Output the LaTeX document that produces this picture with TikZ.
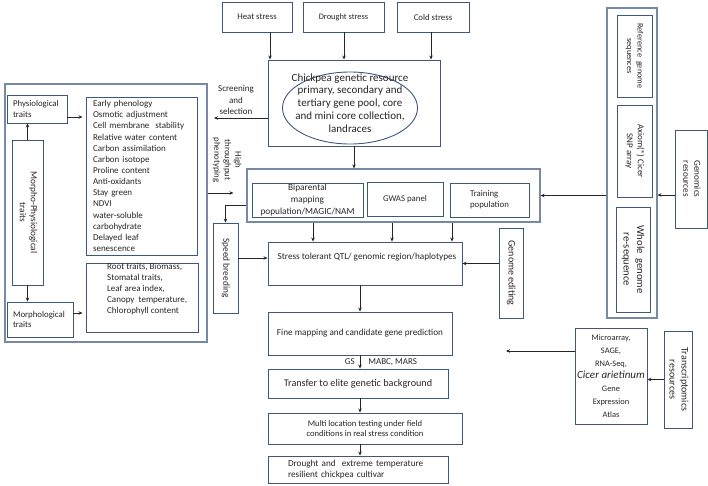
\documentclass[tikz,border=0pt]{standalone}
\usepackage{fontspec}
\setmainfont{Carlito}
\usepackage{graphicx}
\usetikzlibrary{arrows.meta, shapes.geometric}
\definecolor{boxblue}{RGB}{62,88,124}
\definecolor{framegray}{RGB}{118,138,165}
\newcommand{\sidetext}[1]{\rotatebox{-90}{\begin{tabular}{@{}c@{}}#1\end{tabular}}}
\tikzset{
  box/.style={draw=boxblue, line width=0.9pt, inner sep=0pt, align=center, font=\fontsize{8.8}{10.8}\selectfont},
  outerbox/.style={draw=framegray, line width=1.1pt, inner sep=0pt},
  arr/.style={->, >={Stealth[length=4pt,width=3.5pt]}, line width=0.7pt, draw=black!85},
  plain/.style={inner sep=0pt, align=center, font=\fontsize{9}{11.5}\selectfont}
}
\begin{document}
\begin{tikzpicture}[x=1pt, y=-1pt, text=black!85]
\useasboundingbox (0,0) rectangle (708,485);
\node[box, minimum width=70, minimum height=30] (heat) at (257,17) {Heat stress};
\node[box, minimum width=81, minimum height=30, font=\fontsize{8.4}{10}\selectfont] (drought) at (343.5,17) {Drought stress};
\node[box, minimum width=72, minimum height=30] (cold) at (433,17) {Cold stress};
\node[box, minimum width=172, minimum height=86] (chickpea) at (354,103) {};
\node[box, ellipse, minimum width=135, minimum height=72] (poolring) at (350,108) {};
\node[plain, font=\fontsize{11}{12.8}\selectfont] (pool) at (350,103) {Chickpea genetic resource\\ primary, secondary and\\ tertiary gene pool, core\\ and mini core collection,\\ landraces};
\foreach \s/\xa in {heat/270, drought/344, cold/431}
  \draw[arr] (\s.south -| \xa,0) -- (chickpea.north -| \xa,0);
\node[plain] (screen) at (236,100) {Screening\\ and\\ selection};
\coordinate (screenend) at (214,118);
\draw[arr] (chickpea.west |- screenend) -- (screenend);

% traits
\node[outerbox, minimum width=202, minimum height=258] (traitframe) at (106,213) {};
\node[box, minimum width=60, minimum height=28, text width=48, align=left] (physio) at (37,109) {Physiological\\ traits};
\node[box, minimum width=111, minimum height=158, text width=97, align=left, font=\fontsize{9}{11.15}\selectfont] (early) at (141.5,176) {Early phenology\\ Osmotic adjustment\\ Cell membrane~ stability\\ Relative water content\\ Carbon assimilation\\ Carbon isotope\\ Proline content\\ Anti-oxidants\\ Stay green\\ NDVI\\ water-soluble\\ carbohydrate\\ Delayed leaf\\ senescence};
\node[box, minimum width=31, minimum height=145, font=\fontsize{9.3}{11}\selectfont] (morphophys) at (27.5,212.5) {\sidetext{Morpho-Physiological\\ traits}};
\node[box, minimum width=66, minimum height=35, text width=54, align=left] (morph) at (40,319.5) {Morphological\\ traits};
\node[box, minimum width=112, minimum height=69] (root) at (142,297.5) {};
\node[plain, align=left, anchor=north west, font=\fontsize{9}{11.1}\selectfont] (roottext) at (107,263) {Root traits, Biomass,\\ Stomatal traits,\\ Leaf area index,\\ Canopy~ temperature,\\ Chlorophyll content};
\draw[arr] (morphophys.north) -- (morphophys.north |- physio.south);
\draw[arr] (morphophys.south) -- (morphophys.south |- morph.north);
\draw[arr, shorten >=3pt] (physio.east |- 0,117) -- (early.west |- 0,117);
\draw[arr, shorten >=3pt] (morph.east |- 0,313) -- (root.west |- 0,313);
\node[plain, font=\fontsize{8.8}{10.5}\selectfont] (htp) at (227,160) {\sidetext{High\\ throughput\\ phenotyping}};

% populations
\node[outerbox, minimum width=293, minimum height=53] (popgroup) at (393.5,195.5) {};
\node[box, minimum width=111, minimum height=34, font=\fontsize{9.3}{12.3}\selectfont] (biparental) at (307.5,200) {Biparental\\ mapping\\ population/MAGIC/NAM};
\node[box, minimum width=76, minimum height=34] (gwas) at (405,199) {GWAS panel};
\node[box, minimum width=79, minimum height=34, align=left] (training) at (489.5,200) {Training\\ population};
\draw[arr] (chickpea.south) -- (chickpea.south |- popgroup.north);
\draw[arr, shorten >=13pt] (traitframe.east |- 0,193) -- (popgroup.west |- 0,193);
\node[box, minimum width=25, minimum height=90, font=\fontsize{9.3}{11}\selectfont] (speed) at (225.5,268) {\sidetext{Speed breeding}};
\draw[arr] ([yshift=-9.5pt]popgroup.west) -| (speed.north);

\node[box, minimum width=194, minimum height=43] (stress) at (365,263.5) {};
\node[plain, font=\fontsize{9.2}{11}\selectfont] (stresstext) at (367,257) {Stress tolerant QTL/ genomic region/haplotypes};
\foreach \xa in {313,392,452}
  \draw[arr] (popgroup.south -| \xa,0) -- (stress.north -| \xa,0);
\draw[arr] (speed.east |- 0,258) -- (stress.west |- 0,258);
\node[box, minimum width=24, minimum height=90, font=\fontsize{10}{12}\selectfont] (editing) at (511,273) {\sidetext{Genome editing}};
\draw[arr] (editing.west |- stress.east) -- (stress.east);

% selection chain
\node[box, minimum width=184, minimum height=43, font=\fontsize{9.2}{11}\selectfont] (finemap) at (360,333.5) {Fine mapping and candidate gene prediction};
\node[box, minimum width=180, minimum height=29, font=\fontsize{10.2}{12}\selectfont] (transfer) at (358,383.5) {Transfer to elite genetic background};
\node[box, minimum width=194, minimum height=31, font=\fontsize{8.6}{10.8}\selectfont] (multi) at (365,428.5) {Multi location testing under field\\ conditions in real stress condition};
\node[box, minimum width=180, minimum height=27, text width=140, align=left, font=\fontsize{9.2}{11}\selectfont] (cultivar) at (358,469.5) {Drought and~ extreme temperature\\ resilient chickpea cultivar};
\draw[arr] (finemap.north |- stress.south) -- (finemap.north);
\draw[arr] (finemap.south) -- (transfer.north -| finemap.south) node[plain, midway, left=5pt] (gs) {GS} node[plain, midway, right=8pt] (mabc) {MABC, MARS};
\foreach \a/\b in {transfer/multi, multi/cultivar}
  \draw[arr] (\a.south -| finemap.south) -- (\b.north -| finemap.south);

% genomics
\node[outerbox, minimum width=50, minimum height=310] (genomicsframe) at (632,163) {};
\node[box, minimum width=35, minimum height=82, font=\fontsize{8.3}{10.5}\selectfont] (refseq) at (634.5,56) {\sidetext{Reference~ genome\\ sequences}};
\node[box, minimum width=35, minimum height=92, font=\fontsize{9}{11}\selectfont] (axiom) at (634.5,151) {\sidetext{Axiom(®) Cicer\\ SNP array}};
\node[box, minimum width=34, minimum height=105, font=\fontsize{10.6}{13.5}\selectfont] (wgs) at (633,259.5) {\sidetext{Whole~ genome\\ re-sequence}};
\node[box, minimum width=32, minimum height=98, font=\fontsize{9.2}{11}\selectfont] (genomics) at (691,179) {\sidetext{Genomics\\ resources}};
\draw[arr] (genomics.west |- 0,195) -- (genomicsframe.east |- 0,195);
\draw[arr] (genomicsframe.west |- popgroup.east) -- (popgroup.east);

% transcriptomics
\node[box, minimum width=72, minimum height=96, font=\fontsize{8.4}{12.8}\selectfont] (microarray) at (611,376) {Microarray,\\ SAGE,\\ RNA-Seq,\\ {\fontsize{11}{12.8}\selectfont\itshape Cicer arietinum}\\ Gene\\ Expression\\ Atlas};
\node[box, minimum width=28, minimum height=97, font=\fontsize{10}{12}\selectfont] (transcript) at (678,379.5) {\sidetext{Transcriptomics\\ resources}};
\coordinate (txend) at (506,351);
\draw[arr] (microarray.west |- txend) -- (txend);
\draw[arr] (transcript.west) -- (microarray.east |- transcript.west);
\end{tikzpicture}
\end{document}
